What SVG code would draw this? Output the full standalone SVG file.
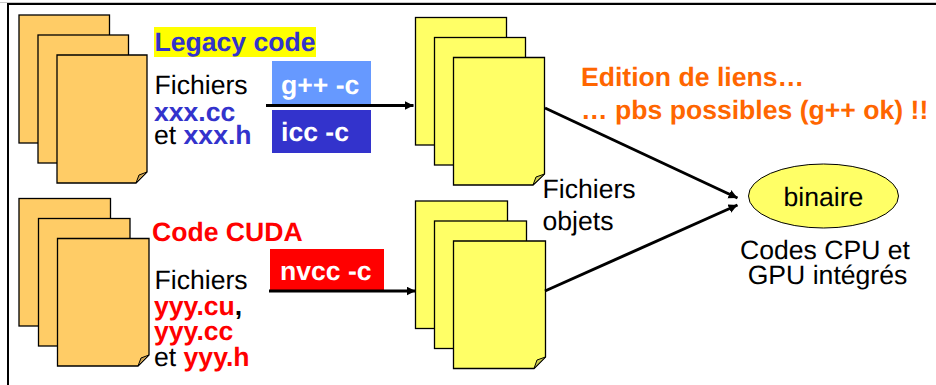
<svg xmlns="http://www.w3.org/2000/svg" width="936" height="385" viewBox="0 0 936 385">
<defs>
<style>
text{font-family:"Liberation Sans",Arial,sans-serif;font-size:26.6px;fill:#000;text-rendering:geometricPrecision}
.b{font-weight:bold}
.blue{fill:#3333cc}.red{fill:#f00}.or{fill:#ff6600}.w{fill:#fff}
.pa{fill:#ffcc66;stroke:#000;stroke-width:1.3}
.py{fill:#ffff66;stroke:#000;stroke-width:1.3}
.fa{fill:#cca352;stroke:#000;stroke-width:1}
.fy{fill:#cccc52;stroke:#000;stroke-width:1}
.c{fill:none;stroke:#000;stroke-width:3}
.m{text-anchor:middle}
</style>
<marker id="ah" markerUnits="userSpaceOnUse" markerWidth="10" markerHeight="10" refX="9" refY="4.5" orient="auto"><path d="M0 0L9 4.5L0 9z" fill="#000"/></marker>
</defs>
<rect width="936" height="385" fill="#fff"/>
<path d="M0 2.500H936" stroke="#c8c8c8" stroke-width="1" fill="none"/>
<path d="M8 385V4H936" stroke="#000" stroke-width="2" fill="none"/>

<g id="docs-legacy">
<rect class="pa" x="19" y="15" width="90.500" height="128"/>
<rect class="pa" x="38" y="35" width="90.500" height="128"/>
<path class="pa" d="M57 55H147V172L136 183H57z"/>
<path class="fa" d="M147 172L136 183L139 175z"/>
</g>
<g id="docs-cuda">
<rect class="pa" x="19" y="198.500" width="91.500" height="127.500"/>
<rect class="pa" x="38.500" y="218.500" width="91.500" height="127.500"/>
<path class="pa" d="M57.500 238.500H149V355L138 366H57.500z"/>
<path class="fa" d="M149 355L138 366L141 358z"/>
</g>
<g id="obj-legacy">
<rect class="py" x="415.500" y="17.500" width="91" height="127.500"/>
<rect class="py" x="434.500" y="37.500" width="91" height="127.500"/>
<path class="py" d="M453.500 57.500H544.500V174L533 185H453.500z"/>
<path class="fy" d="M544.500 174L533 185L536 177z"/>
</g>
<g id="obj-cuda">
<rect class="py" x="415.500" y="201" width="92" height="127.500"/>
<rect class="py" x="434.500" y="221" width="92" height="127.500"/>
<path class="py" d="M453.500 241H545.500V357L534 368.500H453.500z"/>
<path class="fy" d="M545.500 357L534 368.500L537 360z"/>
</g>

<g id="label-legacy">
<rect x="154" y="27" width="162" height="30" fill="#ffff00"/>
<text class="b blue" x="154.500" y="51">Legacy code</text>
<text x="154.500" y="94">Fichiers</text>
<text class="b blue" x="154" y="121">xxx.cc</text>
<text x="154" y="144">et <tspan class="b blue">xxx.h</tspan></text>
</g>
<g id="label-cuda">
<text class="b red" x="152" y="241">Code CUDA</text>
<text x="154.500" y="289">Fichiers</text>
<text class="b" x="154" y="315"><tspan class="red">yyy.cu</tspan>,</text>
<text class="b red" x="154" y="340">yyy.cc</text>
<text x="154" y="366">et <tspan class="b red">yyy.h</tspan></text>
</g>
<g id="cmd-gpp"><rect x="272" y="61" width="99" height="44" fill="#6699ff"/><text class="b w" x="281" y="94">g++ -c</text></g>
<g id="cmd-icc"><rect x="272" y="110" width="99" height="43" fill="#3333cc"/><text class="b w" x="281" y="141">icc -c</text></g>
<g id="cmd-nvcc"><rect x="270" y="249" width="114" height="41" fill="#f00"/><text class="b w" x="280" y="280">nvcc -c</text></g>

<g id="connectors">
<path class="c" marker-end="url(#ah)" d="M266 105.500H413.500"/>
<path class="c" marker-end="url(#ah)" d="M269 291H415.500"/>
<path class="c" marker-end="url(#ah)" d="M545 108L737.500 198"/>
<path class="c" marker-end="url(#ah)" d="M545 291L737.500 205"/>
</g>

<g id="note"><text class="b or" x="581" y="86">Edition de liens…</text><text class="b or" x="581" y="119">… pbs possibles (g++ ok) !!</text></g>
<g id="label-objets"><text x="542.500" y="198">Fichiers</text><text x="542.500" y="230">objets</text></g>
<g id="binaire">
<ellipse cx="823.500" cy="196" rx="75" ry="32" fill="#ffff66" stroke="#000" stroke-width="1"/>
<text class="m" x="823.500" y="206">binaire</text>
</g>
<g id="label-binaire"><text class="m" x="825" y="259">Codes CPU et</text><text class="m" x="827.500" y="284">GPU intégrés</text></g>
</svg>
